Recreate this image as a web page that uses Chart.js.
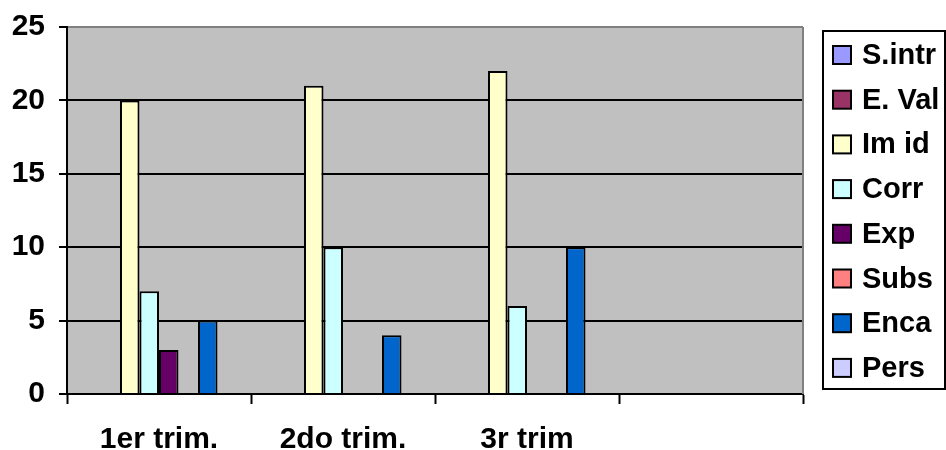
<!DOCTYPE html>
<html>
<head>
<meta charset="utf-8">
<script src="https://cdn.jsdelivr.net/npm/chart.js@4/dist/chart.umd.min.js"></script>
<style>
    html, body { margin: 0; padding: 0; background: #fff; }
    #wrap { width: 946px; height: 450px; }
</style>
</head>
<body>
<div id="wrap"><canvas id="chart"></canvas></div>
<script>
const categories = ['1er trim.', '2do trim.', '3r trim', ''];

const sIntr = [null, null, null, null];
const eVal = [null, null, null, null];
const imId = [20, 21, 22, null];
const corr = [7, 10, 6, null];
const exp = [3, null, null, null];
const subs = [null, null, null, null];
const enca = [5, 4, 10, null];
const pers = [null, null, null, null];

const yTicks = [0, 5, 10, 15, 20, 25];

const seriesNames = ['S.intr', 'E. Val', 'Im id', 'Corr', 'Exp', 'Subs', 'Enca', 'Pers'];
const seriesColors = ['#9999FF', '#993366', '#FFFFCC', '#CCFFFF', '#660066', '#FF8080', '#0066CC', '#CCCCFF'];
const seriesData = [sIntr, eVal, imId, corr, exp, subs, enca, pers];

const FONT = '"Liberation Sans", Arial, sans-serif';

// plot background + gray right frame
const plotFrame = {
    id: 'plotFrame',
    beforeDraw(chart) {
        const { ctx, chartArea: a } = chart;
        ctx.save();
        ctx.fillStyle = '#C0C0C0';
        ctx.fillRect(a.left, a.top, a.right - a.left, a.bottom - a.top);
        ctx.restore();
    },
    afterDatasetsDraw(chart) {
        const { ctx, chartArea: a } = chart;
        ctx.save();
        ctx.strokeStyle = '#808080';
        ctx.lineWidth = 2;
        ctx.beginPath();
        ctx.moveTo(a.right, a.top);
        ctx.lineTo(a.right, a.bottom);
        ctx.stroke();
        ctx.restore();
    }
};

// boxed legend on the right, like the Excel one
const boxLegend = {
    id: 'boxLegend',
    afterDraw(chart) {
        const { ctx } = chart;
        const x0 = chart.chartArea.right + 20;
        const x1 = chart.width - 1;
        const y0 = 31, y1 = 389;
        ctx.save();
        ctx.strokeStyle = '#000';
        ctx.lineWidth = 2;
        ctx.strokeRect(x0, y0, x1 - x0, y1 - y0);
        ctx.font = 'bold 29px ' + FONT;
        ctx.textBaseline = 'middle';
        chart.data.datasets.forEach((ds, i) => {
            const cy = 55 + i * 44.7;
            const sx = x0 + 10;
            ctx.fillStyle = ds.backgroundColor;
            ctx.fillRect(sx, cy - 9, 18, 18);
            ctx.strokeStyle = '#000';
            ctx.lineWidth = 2;
            ctx.strokeRect(sx, cy - 9, 18, 18);
            ctx.fillStyle = '#000';
            ctx.fillText(ds.label, x0 + 39, cy + 1);
        });
        ctx.restore();
    }
};

new Chart(document.getElementById('chart'), {
    type: 'bar',
    data: {
        labels: categories,
        datasets: seriesNames.map((name, i) => ({
            label: name,
            data: seriesData[i],
            backgroundColor: seriesColors[i],
            borderColor: '#000',
            borderWidth: 2,
            categoryPercentage: 0.848,
            barPercentage: 1
        }))
    },
    options: {
        responsive: true,
        maintainAspectRatio: false,
        animation: false,
        layout: { padding: { left: 0, right: 143, top: 0, bottom: 0 } },
        plugins: {
            legend: { display: false },
            tooltip: { enabled: false }
        },
        scales: {
            x: {
                offset: true,
                afterFit(axis) { axis.height = 56; },
                grid: {
                    offset: true,
                    drawOnChartArea: false,
                    drawTicks: true,
                    tickLength: 10,
                    tickColor: '#000',
                    tickWidth: 2
                },
                border: { color: '#000', width: 2 },
                ticks: {
                    color: '#000',
                    padding: 18,
                    font: { family: FONT, size: 30, weight: 'bold' }
                }
            },
            y: {
                min: 0,
                max: 25,
                afterFit(axis) {
                    axis.width = 67;
                    axis.paddingTop = 27;
                },
                afterBuildTicks(axis) {
                    axis.ticks = yTicks.map(v => ({ value: v }));
                },
                grid: {
                    color: c => (c.tick && c.tick.value === 25 ? '#808080' : '#000'),
                    lineWidth: 2,
                    tickLength: 8,
                    tickColor: '#000',
                    tickWidth: 2
                },
                border: { color: '#000', width: 2 },
                ticks: {
                    color: '#000',
                    padding: 14,
                    font: { family: FONT, size: 30, weight: 'bold' }
                }
            }
        }
    },
    plugins: [plotFrame, boxLegend]
});
</script>
</body>
</html>
